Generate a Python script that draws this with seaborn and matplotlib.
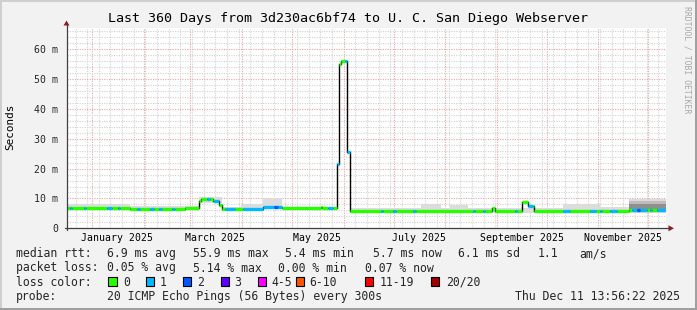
import numpy as np
import pandas as pd
import matplotlib
matplotlib.use("Agg")
import matplotlib.pyplot as plt
import matplotlib.dates as mdates
from matplotlib.ticker import MultipleLocator, FuncFormatter, NullFormatter
from matplotlib.patches import Rectangle, Polygon
from matplotlib.lines import Line2D
import seaborn as sns

# ---------------- data ----------------
title = "Last 360 Days from 3d230ac6bf74 to U. C. San Diego Webserver"
start = pd.Timestamp("2024-12-16 14:00")
end = pd.Timestamp("2025-12-11 14:00")
total_days = 360

# median RTT (ms) as steps: start day of each step, value
median_day = [0, 38, 71.3, 79.6, 81, 88, 91.6, 93.2, 117.7, 129.7, 152.6, 153.6,
              162.3, 163.9, 165, 168.3, 170.1, 255.6, 257.4, 273.8, 277.2, 280.6, 338]
median_ms = [6.7, 6.6, 6.9, 9.2, 9.9, 9.3, 7.7, 6.6, 7.1, 6.7, 7.3, 6.7,
             21.7, 55.2, 55.9, 25.4, 5.7, 6.8, 5.7, 8.8, 7.4, 5.7, 6.1]

# packet loss class along the median (0 = no loss, 1 = 1/20, 2 = 2/20)
loss_day = [0, 2.4, 3.6, 10.5, 11.6, 24.4, 27.4, 31.0, 32.2, 42.4, 44.3, 50.3, 52.7,
            55.7, 57.5, 63.5, 65.4, 84.6, 86.4, 88.8, 91.8, 95.4, 101.4, 105.7,
            124.5, 127, 129.7, 156.8, 159.8, 162.3, 163.9, 167.5, 170.1, 188.7, 190,
            196, 197.8, 208, 209.8, 244.1, 245.2, 250, 251.3, 269.2, 270.3, 277.2,
            280.2, 298.3, 302.5, 314.6, 318.2, 320.4, 321.6, 326.4, 330.4, 339.3,
            342.5, 344.5, 348.3, 350.5, 351.6, 354.3]
loss_code = [0, 1, 0, 1, 0, 1, 0, 1, 0, 1, 0, 1, 0,
             1, 0, 1, 0, 1, 0, 1, 0, 1, 0, 1,
             2, 1, 0, 1, 0, 1, 0, 1, 0, 1, 0,
             1, 0, 1, 0, 1, 0, 1, 0, 1, 0, 1,
             0, 1, 0, 1, 0, 1, 0, 1, 0, 1,
             2, 1, 0, 1, 0, 1]

# smoke (RTT spread) envelopes
nan = np.nan
smoke_day = [0, 38, 71.3, 79.6, 93.2, 105, 117.7, 129.7, 162.3, 170.1, 212.9, 225,
             230.3, 241, 298.3, 320.6, 338]
smoke_lo = [6.0, 6.1, 6.3, 8.6, 6.1, 6.1, 6.3, 6.1, nan, 5.2, 5.2, 5.2,
            5.2, 5.2, 5.2, 5.2, 5.0]
smoke_hi = [8.0, 7.5, 7.6, 10.5, 7.3, 8.0, 10.0, 7.6, nan, 6.8, 8.1, 6.8,
            7.9, 6.8, 8.3, 7.2, 9.9]
smoke_mid_lo = [nan, nan, nan, nan, nan, nan, 6.6, nan, nan, nan, 6.1, nan,
                nan, nan, 6.0, nan, 5.3]
smoke_mid_hi = [nan, nan, nan, nan, nan, nan, 9.6, nan, nan, nan, 7.4, nan,
                nan, nan, 7.6, nan, 9.2]
smoke_dark_lo = [nan, nan, nan, nan, nan, nan, 7.0, nan, nan, nan, nan, nan,
                 nan, nan, nan, nan, 6.2]
smoke_dark_hi = [nan, nan, nan, nan, nan, nan, 9.0, nan, nan, nan, nan, nan,
                 nan, nan, nan, nan, 8.2]

loss_colors = ["#26ff00", "#00b8ff", "#0059ff", "#5e00ff", "#ff00ff",
               "#ff5500", "#ff0000", "#a00000"]
loss_labels = ["0", "1", "2", "3", "4-5", "6-10", "11-19", "20/20"]

x_labels = ["January 2025", "March 2025", "May 2025", "July 2025",
            "September 2025", "November 2025"]
x_label_dates = ["2025-01-16", "2025-03-16", "2025-05-16", "2025-07-16",
                 "2025-09-16", "2025-11-16"]

median_row = [("median rtt:", 16), ("6.9 ms avg", 107), ("55.9 ms max", 193.3),
              ("5.4 ms min", 285), ("5.7 ms now", 372.7), ("6.1 ms sd", 458.3),
              ("1.1", 537.3), ("am/s", 579.3)]
loss_row = [("packet loss:", 16), ("0.05 % avg", 107), ("5.14 % max", 193.3),
            ("0.00 % min", 278.3), ("0.07 % now", 365)]
probe_label = "probe:"
probe_text = "20 ICMP Echo Pings (56 Bytes) every 300s"
stamp_text = "Thu Dec 11 13:56:22 2025"
box_x = [108.3, 145.7, 182.7, 220.7, 258, 296, 365, 430.7]
box_label_x = [123.3, 160, 197, 234, 271.7, 309, 380, 446]

# ---------------- figure ----------------
W, H = 697, 310
sns.set_style("white")
plt.rcParams["font.family"] = ["DejaVu Sans Mono"]
MONO = "DejaVu Sans Mono"

fig = plt.figure(figsize=(W / 100, H / 100), dpi=100, facecolor="#f2f2f2")

ax_left, ax_right, ax_top, ax_bottom = 66.5, 666, 28, 228.3
ax = fig.add_axes([ax_left / W, (H - ax_bottom) / H,
                   (ax_right - ax_left) / W, (ax_bottom - ax_top) / H])
ax.set_facecolor("white")

d0 = mdates.date2num(start)


def xnum(days):
    return d0 + np.asarray(days, float)


def lookup(days, vals, t):
    idx = np.searchsorted(np.asarray(days, float), t, side="right") - 1
    return np.asarray(vals, float)[idx]


# smoke layers
t_s = np.array(list(smoke_day) + [total_days], float)
for lo, hi, col in [(smoke_lo, smoke_hi, "#dcdcdc"),
                    (smoke_mid_lo, smoke_mid_hi, "#bdbdbd"),
                    (smoke_dark_lo, smoke_dark_hi, "#8f8f8f")]:
    lo_v = np.append(np.asarray(lo, float), lo[-1])
    hi_v = np.append(np.asarray(hi, float), hi[-1])
    ax.fill_between(xnum(t_s), lo_v, hi_v, step="post", color=col,
                    linewidth=0, zorder=2)

# thin black median step line (shows vertical transitions)
t_m = np.array(list(median_day) + [total_days], float)
m_v = np.append(np.asarray(median_ms, float), median_ms[-1])
df_med = pd.DataFrame({"x": xnum(t_m), "y": m_v})
sns.lineplot(data=df_med, x="x", y="y", ax=ax, color="black", linewidth=1.0,
             drawstyle="steps-post", estimator=None, sort=False, zorder=3)

# colored median segments by packet loss
bps = np.unique(np.concatenate([median_day, loss_day, [total_days]]))
seg_start = bps[:-1]
seg_end = bps[1:]
seg_val = lookup(median_day, median_ms, seg_start)
seg_code = lookup(loss_day, loss_code, seg_start).astype(int)
lc = ax.hlines(seg_val, xnum(seg_start), xnum(seg_end),
               colors=[loss_colors[c] for c in seg_code], linewidth=2.4, zorder=4)
lc.set_capstyle("butt")

# axes ranges
ax.set_xlim(mdates.date2num(start), mdates.date2num(end))
ax.set_ylim(0, 67.1)
ax.set_xlabel("")
ax.set_ylabel("")

# grid
ax.xaxis.set_major_locator(mdates.MonthLocator())
ax.xaxis.set_minor_locator(mdates.WeekdayLocator(byweekday=mdates.SU))
ax.xaxis.set_major_formatter(NullFormatter())
ax.xaxis.set_minor_formatter(NullFormatter())
ax.yaxis.set_major_locator(MultipleLocator(10))
ax.yaxis.set_minor_locator(MultipleLocator(2))
ax.yaxis.set_major_formatter(FuncFormatter(lambda v, p: "0" if v == 0 else f"{v:.0f} m"))
ax.set_axisbelow(True)
ax.grid(which="minor", color="#d2d2d2", linestyle=(0, (1, 1.2)), linewidth=0.8)
ax.grid(which="major", color="#eba3a3", linestyle=(0, (1, 1.2)), linewidth=0.8)
ax.tick_params(axis="both", which="major", length=3, width=0.7, color="#404040",
               direction="inout", labelsize=7.1, pad=4)
ax.tick_params(axis="both", which="minor", length=2, width=0.7, color="#404040",
               direction="inout")
ax.tick_params(axis="y", which="major", pad=4.5)
for lab in ax.get_yticklabels():
    lab.set_fontfamily(MONO)
for s in ax.spines.values():
    s.set_visible(False)

for lbl, d in zip(x_labels, x_label_dates):
    ax.text(mdates.date2num(pd.Timestamp(d)), -0.046, lbl,
            transform=ax.get_xaxis_transform(), ha="center", va="center",
            fontsize=7.1, family=MONO, color="black", clip_on=False)


def fx(x):
    return x / W


def fy(y):
    return 1 - y / H


# axis lines with arrows
axis_col = "#404040"
arrow_col = "#8b1e1e"
fig.add_artist(Line2D([fx(ax_left), fx(ax_left)], [fy(ax_bottom + 2), fy(24)],
                      transform=fig.transFigure, color=axis_col, lw=0.9))
fig.add_artist(Line2D([fx(ax_left - 2), fx(669)], [fy(ax_bottom), fy(ax_bottom)],
                      transform=fig.transFigure, color=axis_col, lw=0.9))
fig.add_artist(Polygon([[fx(ax_left - 3), fy(25.5)], [fx(ax_left + 3), fy(25.5)],
                        [fx(ax_left), fy(20.5)]], closed=True,
                       transform=fig.transFigure, color=arrow_col, lw=0))
fig.add_artist(Polygon([[fx(668.5), fy(ax_bottom - 3)], [fx(668.5), fy(ax_bottom + 3)],
                        [fx(674), fy(ax_bottom)]], closed=True,
                       transform=fig.transFigure, color=arrow_col, lw=0))

# frame shading
fig.add_artist(Line2D([0, 1], [fy(0.8), fy(0.8)], transform=fig.transFigure,
                      color="#cfcfcf", lw=1.4))
fig.add_artist(Line2D([fx(0.8), fx(0.8)], [0, 1], transform=fig.transFigure,
                      color="#cfcfcf", lw=1.4))
fig.add_artist(Line2D([0, 1], [fy(309.2), fy(309.2)], transform=fig.transFigure,
                      color="#9e9e9e", lw=1.4))
fig.add_artist(Line2D([fx(696.2), fx(696.2)], [0, 1], transform=fig.transFigure,
                      color="#9e9e9e", lw=1.4))

# title, axis label, watermark
fig.text(fx(348), fy(18.5), title, ha="center", va="center", fontsize=9.6,
         family=MONO, color="black")
fig.text(fx(10.5), fy(127), "Seconds", ha="center", va="center", rotation=90,
         fontsize=7.9, family=MONO, color="black")
fig.text(fx(687.5), fy(60), "RRDTOOL / TOBI OETIKER", ha="center", va="center",
         rotation=270, fontsize=5.9, family=MONO, color="#a8a8a8")

# legend rows
LEG = 8.32
for txt, x in median_row:
    fig.text(fx(x), fy(257.3), txt, ha="left", va="baseline", fontsize=LEG, family=MONO)
for txt, x in loss_row:
    fig.text(fx(x), fy(271.5), txt, ha="left", va="baseline", fontsize=LEG, family=MONO)
fig.text(fx(16), fy(285.7), "loss color:", ha="left", va="baseline", fontsize=LEG,
         family=MONO)
for bx, lx, col, lab in zip(box_x, box_label_x, loss_colors, loss_labels):
    fig.add_artist(Rectangle((fx(bx), fy(286)), 8.4 / W, 9.2 / H,
                             transform=fig.transFigure, facecolor=col,
                             edgecolor="black", linewidth=0.8))
    fig.text(fx(lx), fy(285.7), lab, ha="left", va="baseline", fontsize=LEG, family=MONO)
fig.text(fx(16), fy(300), probe_label, ha="left", va="baseline", fontsize=LEG, family=MONO)
fig.text(fx(107.3), fy(300), probe_text, ha="left", va="baseline", fontsize=LEG,
         family=MONO)
fig.text(fx(680), fy(300), stamp_text, ha="right", va="baseline", fontsize=LEG,
         family=MONO)

fig.savefig("out.png", dpi=100, facecolor=fig.get_facecolor())
